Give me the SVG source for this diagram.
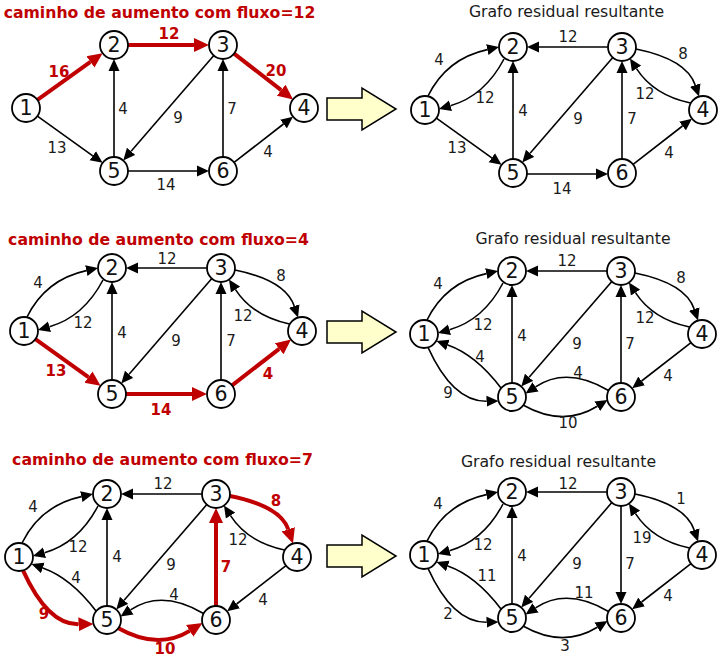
<svg xmlns="http://www.w3.org/2000/svg" width="720" height="658" viewBox="0 0 720 658">
<defs>
<marker id="ab" markerUnits="userSpaceOnUse" markerWidth="12" markerHeight="12" viewBox="0 0 12 12" refX="0" refY="6" orient="auto"><path d="M0,0.5 L12,6 L0,11.5 z" fill="#000"/></marker>
<marker id="ar" markerUnits="userSpaceOnUse" markerWidth="15" markerHeight="15" viewBox="0 0 15 15" refX="0" refY="7.5" orient="auto"><path d="M0,0.5 L15,7.5 L0,14.5 z" fill="#c00000"/></marker>
</defs>
<style>
.nd circle{fill:#fff;stroke:#000;stroke-width:1.8}
.nd text{font-family:"DejaVu Sans",sans-serif;font-size:20.5px;text-anchor:middle;fill:#111}
.e{fill:none;stroke:#000;stroke-width:1.6;marker-end:url(#ab)}
.r{fill:none;stroke:#c00000;stroke-width:4;marker-end:url(#ar)}
.lb{font-family:"DejaVu Sans",sans-serif;font-size:15px;text-anchor:middle;fill:#1a1a1a}
.lr{font-family:"DejaVu Sans",sans-serif;font-size:15px;font-weight:bold;text-anchor:middle;fill:#c00000}
.tr{font-family:"DejaVu Sans",sans-serif;font-size:15.7px;font-weight:bold;text-anchor:middle;fill:#c00000}
.tg{font-family:"DejaVu Sans",sans-serif;font-size:15.7px;text-anchor:middle;fill:#1a1a1a}
.blk{fill:#ffffcc;stroke:#000;stroke-width:1.5}
</style>
<rect width="720" height="658" fill="#fff"/>

<g id="titles">
<text class="tr" x="159.5" y="18">caminho de aumento com fluxo=12</text>
<text class="tg" x="566.5" y="17">Grafo residual resultante</text>
<text class="tr" x="158.5" y="245">caminho de aumento com fluxo=4</text>
<text class="tg" x="573" y="243.5">Grafo residual resultante</text>
<text class="tr" x="162.5" y="465">caminho de aumento com fluxo=7</text>
<text class="tg" x="558.5" y="467">Grafo residual resultante</text>
</g>

<g id="block-arrows">
<polygon class="blk" points="327,98 362,98 362,88 396,109 362,130 362,120 327,120"/>
<polygon class="blk" points="327,321 362,321 362,311 396,332 362,353 362,343 327,343"/>
<polygon class="blk" points="327,545 362,545 362,535 396,556 362,577 362,567 327,567"/>
</g>

<!-- Panel 1 left -->
<g id="p1a" transform="translate(26,45)">
<g id="p1a-connectors">
<path class="r" d="M11.4,54.9 L64.4,16.9"/>
<path class="r" d="M102,0 L168,0"/>
<path class="r" d="M208.1,8.6 L255.2,45.2"/>
<path class="e" d="M11.4,71.1 L66.8,110.8"/>
<path class="e" d="M88,112 L88,26"/>
<path class="e" d="M187.8,10.6 L105.1,106.3"/>
<path class="e" d="M197,112 L197,26"/>
<path class="e" d="M208.1,117.4 L257.5,79"/>
<path class="e" d="M102,126 L171,126"/>
<text class="lr" x="33" y="31.5">16</text>
<text class="lr" x="143" y="-6.5">12</text>
<text class="lr" x="250" y="30.5">20</text>
<text class="lb" x="97" y="68.5">4</text>
<text class="lb" x="152" y="77.5">9</text>
<text class="lb" x="206" y="68.5">7</text>
<text class="lb" x="31" y="107.5">13</text>
<text class="lb" x="242" y="111.5">4</text>
<text class="lb" x="140" y="144.5">14</text>
</g>
<g id="p1a-n1" class="nd"><circle cx="0" cy="63" r="14"/><text x="0" y="70.4">1</text></g>
<g id="p1a-n2" class="nd"><circle cx="88" cy="0" r="14"/><text x="88" y="7.4">2</text></g>
<g id="p1a-n3" class="nd"><circle cx="197" cy="0" r="14"/><text x="197" y="7.4">3</text></g>
<g id="p1a-n4" class="nd"><circle cx="278" cy="63" r="14"/><text x="278" y="70.4">4</text></g>
<g id="p1a-n5" class="nd"><circle cx="88" cy="126" r="14"/><text x="88" y="133.4">5</text></g>
<g id="p1a-n6" class="nd"><circle cx="197" cy="126" r="14"/><text x="197" y="133.4">6</text></g>
</g>

<!-- Panel 1 right -->
<g id="p1b" transform="translate(425,47)">
<g id="p1b-connectors">
<path class="e" d="M3,49 Q21.5,11.5 62.3,2.6"/>
<path class="e" d="M79,12 Q59.5,49 25.5,58.7"/>
<path class="e" d="M183,0 L114,0"/>
<path class="e" d="M211,2 Q261.5,12.25 270.2,38.1"/>
<path class="e" d="M265.5,56 Q228.75,48.25 211.5,21.6"/>
<path class="e" d="M11.4,71.1 L66.8,110.8"/>
<path class="e" d="M88,112 L88,26"/>
<path class="e" d="M187.8,10.6 L105.1,106.3"/>
<path class="e" d="M197,112 L197,26"/>
<path class="e" d="M208.1,117.4 L257.5,79"/>
<path class="e" d="M102,127 L171,127"/>
<text class="lb" x="14" y="17.5">4</text>
<text class="lb" x="60" y="55.5">12</text>
<text class="lb" x="143" y="-5.5">12</text>
<text class="lb" x="258" y="11.5">8</text>
<text class="lb" x="220" y="51.5">12</text>
<text class="lb" x="32" y="105.5">13</text>
<text class="lb" x="98" y="68.5">4</text>
<text class="lb" x="153" y="76.5">9</text>
<text class="lb" x="207" y="76.5">7</text>
<text class="lb" x="244" y="110.5">4</text>
<text class="lb" x="137" y="146.5">14</text>
</g>
<g id="p1b-n1" class="nd"><circle cx="0" cy="63" r="14"/><text x="0" y="70.4">1</text></g>
<g id="p1b-n2" class="nd"><circle cx="88" cy="0" r="14"/><text x="88" y="7.4">2</text></g>
<g id="p1b-n3" class="nd"><circle cx="197" cy="0" r="14"/><text x="197" y="7.4">3</text></g>
<g id="p1b-n4" class="nd"><circle cx="278" cy="63" r="14"/><text x="278" y="70.4">4</text></g>
<g id="p1b-n5" class="nd"><circle cx="88" cy="126" r="14"/><text x="88" y="133.4">5</text></g>
<g id="p1b-n6" class="nd"><circle cx="197" cy="126" r="14"/><text x="197" y="133.4">6</text></g>
</g>

<!-- Panel 2 left -->
<g id="p2a" transform="translate(24,268)">
<g id="p2a-connectors">
<path class="e" d="M3,49 Q21.5,11.5 62.3,2.6"/>
<path class="e" d="M79,12 Q59.5,49 25.5,58.7"/>
<path class="e" d="M183,0 L114,0"/>
<path class="e" d="M211,2 Q261.5,12.25 270.2,38.1"/>
<path class="e" d="M265.5,56 Q228.75,48.25 211.5,21.6"/>
<path class="r" d="M11.4,71.1 L64.4,109.1"/>
<path class="e" d="M88,112 L88,26"/>
<path class="e" d="M187.8,10.6 L105.1,106.3"/>
<path class="e" d="M197,112 L197,26"/>
<path class="r" d="M208.1,117.4 L255.2,80.8"/>
<path class="r" d="M102,126 L168,126"/>
<text class="lb" x="14" y="19.5">4</text>
<text class="lb" x="59" y="59.5">12</text>
<text class="lb" x="143" y="-4.5">12</text>
<text class="lb" x="257" y="12.5">8</text>
<text class="lb" x="219" y="52.5">12</text>
<text class="lr" x="32" y="107.5">13</text>
<text class="lb" x="98" y="69.5">4</text>
<text class="lb" x="152" y="77.5">9</text>
<text class="lb" x="207" y="77.5">7</text>
<text class="lr" x="244" y="110.5">4</text>
<text class="lr" x="137" y="146.5">14</text>
</g>
<g id="p2a-n1" class="nd"><circle cx="0" cy="63" r="14"/><text x="0" y="70.4">1</text></g>
<g id="p2a-n2" class="nd"><circle cx="88" cy="0" r="14"/><text x="88" y="7.4">2</text></g>
<g id="p2a-n3" class="nd"><circle cx="197" cy="0" r="14"/><text x="197" y="7.4">3</text></g>
<g id="p2a-n4" class="nd"><circle cx="278" cy="63" r="14"/><text x="278" y="70.4">4</text></g>
<g id="p2a-n5" class="nd"><circle cx="88" cy="126" r="14"/><text x="88" y="133.4">5</text></g>
<g id="p2a-n6" class="nd"><circle cx="197" cy="126" r="14"/><text x="197" y="133.4">6</text></g>
</g>

<!-- Panel 2 right -->
<g id="p2b" transform="translate(424,271)">
<g id="p2b-connectors">
<path class="e" d="M3,49 Q21.5,11.5 62.3,2.6"/>
<path class="e" d="M79,12 Q59.5,49 25.5,58.7"/>
<path class="e" d="M183,0 L114,0"/>
<path class="e" d="M211,2 Q261.5,12.25 270.2,38.1"/>
<path class="e" d="M265.5,56 Q228.75,48.25 211.5,21.6"/>
<path class="e" d="M88,112 L88,26"/>
<path class="e" d="M187.8,10.6 L105.1,106.3"/>
<path class="e" d="M197,112 L197,26"/>
<path class="e" d="M77,117 Q51.85,83.9 23.8,74"/>
<path class="e" d="M4,76.4 Q28.75,130.8 62.5,130.2"/>
<path class="e" d="M267,71.6 L217.6,110"/>
<path class="e" d="M184.5,119.5 Q143,95 111.5,115.9"/>
<path class="e" d="M99,134 Q138.75,156.5 173.3,135.3"/>
<text class="lb" x="14" y="17.5">4</text>
<text class="lb" x="59" y="58.5">12</text>
<text class="lb" x="143" y="-5.5">12</text>
<text class="lb" x="257" y="11.5">8</text>
<text class="lb" x="221" y="51.5">12</text>
<text class="lb" x="98" y="69.5">4</text>
<text class="lb" x="153" y="77.5">9</text>
<text class="lb" x="206" y="77.5">7</text>
<text class="lb" x="56" y="90.5">4</text>
<text class="lb" x="24" y="126.5">9</text>
<text class="lb" x="244" y="109.5">4</text>
<text class="lb" x="154" y="106.5">4</text>
<text class="lb" x="144" y="156.5">10</text>
</g>
<g id="p2b-n1" class="nd"><circle cx="0" cy="63" r="14"/><text x="0" y="70.4">1</text></g>
<g id="p2b-n2" class="nd"><circle cx="88" cy="0" r="14"/><text x="88" y="7.4">2</text></g>
<g id="p2b-n3" class="nd"><circle cx="197" cy="0" r="14"/><text x="197" y="7.4">3</text></g>
<g id="p2b-n4" class="nd"><circle cx="278" cy="63" r="14"/><text x="278" y="70.4">4</text></g>
<g id="p2b-n5" class="nd"><circle cx="88" cy="126" r="14"/><text x="88" y="133.4">5</text></g>
<g id="p2b-n6" class="nd"><circle cx="197" cy="126" r="14"/><text x="197" y="133.4">6</text></g>
</g>

<!-- Panel 3 left -->
<g id="p3a" transform="translate(19,494)">
<g id="p3a-connectors">
<path class="e" d="M3,49 Q21.5,11.5 62.3,2.6"/>
<path class="e" d="M79,12 Q59.5,49 25.5,58.7"/>
<path class="e" d="M183,0 L114,0"/>
<path class="r" d="M211,2 Q261.5,12.25 269.2,35.3"/>
<path class="e" d="M265.5,56 Q228.75,48.25 211.5,21.6"/>
<path class="e" d="M88,112 L88,26"/>
<path class="e" d="M187.8,10.6 L105.1,106.3"/>
<path class="r" d="M197,112 L197,29"/>
<path class="e" d="M77,117 Q51.85,83.9 23.8,74"/>
<path class="r" d="M4,76.4 Q28.75,130.8 59.5,130.3"/>
<path class="e" d="M267,71.6 L217.6,110"/>
<path class="e" d="M184.5,119.5 Q143,95 111.5,115.9"/>
<path class="r" d="M99,134 Q138.75,156.5 170.7,136.9"/>
<text class="lb" x="14" y="17.5">4</text>
<text class="lb" x="59" y="57.5">12</text>
<text class="lb" x="144" y="-5.5">12</text>
<text class="lr" x="257" y="11.5">8</text>
<text class="lb" x="219" y="50.5">12</text>
<text class="lb" x="98" y="67.5">4</text>
<text class="lb" x="152" y="75.5">9</text>
<text class="lr" x="207" y="77.5">7</text>
<text class="lb" x="57" y="88.5">4</text>
<text class="lr" x="25" y="124.5">9</text>
<text class="lb" x="244" y="110.5">4</text>
<text class="lb" x="155" y="105.5">4</text>
<text class="lr" x="146" y="159.5">10</text>
</g>
<g id="p3a-n1" class="nd"><circle cx="0" cy="63" r="14"/><text x="0" y="70.4">1</text></g>
<g id="p3a-n2" class="nd"><circle cx="88" cy="0" r="14"/><text x="88" y="7.4">2</text></g>
<g id="p3a-n3" class="nd"><circle cx="197" cy="0" r="14"/><text x="197" y="7.4">3</text></g>
<g id="p3a-n4" class="nd"><circle cx="278" cy="63" r="14"/><text x="278" y="70.4">4</text></g>
<g id="p3a-n5" class="nd"><circle cx="88" cy="126" r="14"/><text x="88" y="133.4">5</text></g>
<g id="p3a-n6" class="nd"><circle cx="197" cy="126" r="14"/><text x="197" y="133.4">6</text></g>
</g>

<!-- Panel 3 right -->
<g id="p3b" transform="translate(424,492)">
<g id="p3b-connectors">
<path class="e" d="M3,49 Q21.5,11.5 62.3,2.6"/>
<path class="e" d="M79,12 Q59.5,49 25.5,58.7"/>
<path class="e" d="M183,0 L114,0"/>
<path class="e" d="M211,2 Q261.5,12.25 270.2,38.1"/>
<path class="e" d="M265.5,56 Q228.75,48.25 211.5,21.6"/>
<path class="e" d="M88,112 L88,26"/>
<path class="e" d="M187.8,10.6 L105.1,106.3"/>
<path class="e" d="M197,14 L197,100"/>
<path class="e" d="M77,117 Q51.85,83.9 23.8,74"/>
<path class="e" d="M4,76.4 Q28.75,130.8 62.5,130.2"/>
<path class="e" d="M267,71.6 L217.6,110"/>
<path class="e" d="M184.5,119.5 Q143,95 111.5,115.9"/>
<path class="e" d="M99,134 Q138.75,156.5 173.3,135.3"/>
<text class="lb" x="14" y="16.5">4</text>
<text class="lb" x="59" y="57.5">12</text>
<text class="lb" x="144" y="-3.5">12</text>
<text class="lb" x="257" y="11.5">1</text>
<text class="lb" x="218" y="50.5">19</text>
<text class="lb" x="98" y="68.5">4</text>
<text class="lb" x="153" y="76.5">9</text>
<text class="lb" x="206" y="76.5">7</text>
<text class="lb" x="63" y="88.5">11</text>
<text class="lb" x="24" y="126.5">2</text>
<text class="lb" x="244" y="108.5">4</text>
<text class="lb" x="160" y="105.5">11</text>
<text class="lb" x="141" y="158.5">3</text>
</g>
<g id="p3b-n1" class="nd"><circle cx="0" cy="63" r="14"/><text x="0" y="70.4">1</text></g>
<g id="p3b-n2" class="nd"><circle cx="88" cy="0" r="14"/><text x="88" y="7.4">2</text></g>
<g id="p3b-n3" class="nd"><circle cx="197" cy="0" r="14"/><text x="197" y="7.4">3</text></g>
<g id="p3b-n4" class="nd"><circle cx="278" cy="63" r="14"/><text x="278" y="70.4">4</text></g>
<g id="p3b-n5" class="nd"><circle cx="88" cy="126" r="14"/><text x="88" y="133.4">5</text></g>
<g id="p3b-n6" class="nd"><circle cx="197" cy="126" r="14"/><text x="197" y="133.4">6</text></g>
</g>
</svg>
